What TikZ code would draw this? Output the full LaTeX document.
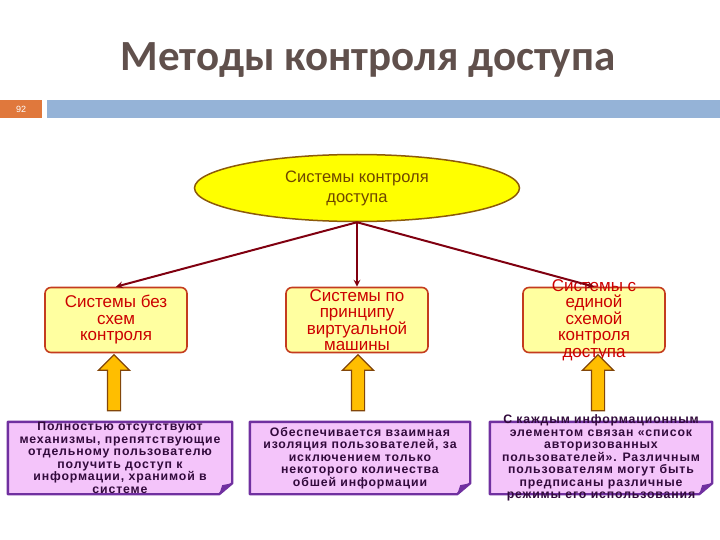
\documentclass[tikz,border=0pt]{standalone}
\usepackage{fontspec}
\setmainfont{Liberation Sans}
\newfontfamily\titlefont{Carlito}
\newfontfamily\notefont[LetterSpace=7]{Liberation Sans}
\usepackage{tikz}
\usepackage{xcolor}
\usetikzlibrary{shapes,arrows,positioning}
\definecolor{titleGray}{RGB}{96,80,76}
\definecolor{pageOrange}{RGB}{224,120,60}
\definecolor{barBlue}{RGB}{149,179,215}
\definecolor{ellYellow}{RGB}{255,255,0}
\definecolor{ellBorder}{RGB}{140,90,10}
\definecolor{ellText}{RGB}{110,70,0}
\definecolor{connRed}{RGB}{128,0,16}
\definecolor{boxFill}{RGB}{255,255,160}
\definecolor{boxBorder}{RGB}{196,60,30}
\definecolor{boxText}{RGB}{204,0,0}
\definecolor{upFill}{RGB}{255,190,0}
\definecolor{upBorder}{RGB}{130,70,10}
\definecolor{noteFill}{RGB}{244,196,250}
\definecolor{noteBorder}{RGB}{112,48,160}
\definecolor{noteText}{RGB}{50,10,60}

\begin{document}
\begin{tikzpicture}[x=1pt, y=-1pt,
    topbox/.style={rectangle, rounded corners=6pt, draw=boxBorder, line width=1.6pt, fill=boxFill, minimum width=142pt, minimum height=65pt},
    toptext/.style={align=center, text=boxText, font=\fontsize{17}{16.5}\selectfont, inner sep=0pt},
    notebox/.style={rectangle, minimum height=72pt, inner sep=0pt},
    noteedge/.style={draw=noteBorder, line width=2.4pt, fill=noteFill, line join=round},
    notetext/.style={align=center, text=noteText, font=\notefont\bfseries\fontsize{12.3}{12.5}\selectfont, inner sep=0pt},
    upbox/.style={single arrow, rotate=90, draw=upBorder, fill=upFill, line width=1.2pt, inner sep=6pt, single arrow head extend=9pt, minimum height=56pt},
    conn/.style={->, >=stealth, draw=connRed, line width=2pt}]
  \useasboundingbox (0,0) rectangle (720,540);

  % header
  \node[font=\titlefont\bfseries\fontsize{43}{50}\selectfont, text=titleGray] (title) at (368,60) {Методы контроля доступа};
  \node[fill=pageOrange, minimum width=42pt, minimum height=18pt, inner sep=0pt, anchor=north west, text=white, font=\fontsize{9}{9}\selectfont] (page) at (0,100) {92};
  \node[fill=barBlue, minimum width=673pt, minimum height=18pt, inner sep=0pt, anchor=north west] (bar) at (47,100) {};

  % root
  \node[ellipse, draw=ellBorder, line width=1.5pt, fill=ellYellow, minimum width=325pt, minimum height=67pt, align=center, text=ellText, font=\fontsize{16.5}{20}\selectfont] (sys) at (357,188) {Системы контроля\\доступа};

  % three kinds
  \node[topbox] (sysFree) at (116,320) {};
  \node[topbox] (sysVm) at (357,320) {};
  \node[topbox] (sysList) at (594,320) {};
  \node[toptext] (sysFreeText) at (sysFree) {Системы без\\схем\\контроля};
  \node[toptext] (sysVmText) at (sysVm) {Системы по\\принципу\\виртуальной\\машины};
  \node[toptext] (sysListText) at (sysList) {Системы с\\единой\\схемой\\контроля\\доступа};

  \draw[conn] (sys.south) -- (sysFree.north);
  \draw[conn] (sys.south) -- (sysVm.north);
  \draw[conn] (sys.south) -- (sysList.north);

  % descriptions
  \node[notebox, minimum width=224pt] (noteFree) at (120,458) {};
  \node[notebox, minimum width=220pt] (noteVm) at (360,458) {};
  \node[notebox, minimum width=222pt] (noteList) at (601,458) {};
  \foreach \n in {noteFree,noteVm,noteList}{
    \draw[noteedge] (\n.north west) -- (\n.north east) -- ([yshift=11pt]\n.south east) -- ([xshift=-13pt]\n.south east) -- (\n.south west) -- cycle;
    \fill[noteBorder] ([yshift=11pt]\n.south east) -- ([xshift=-13pt]\n.south east) -- ([xshift=-10pt,yshift=9pt]\n.south east) -- cycle;
  }
  \node[notetext] (noteFreeText) at (noteFree) {Полностью отсутствуют\\механизмы, препятствующие\\отдельному пользователю\\получить доступ к\\информации, хранимой в\\системе};
  \node[notetext] (noteVmText) at (noteVm) {Обеспечивается взаимная\\изоляция пользователей, за\\исключением только\\некоторого количества\\обшей информации};
  \node[notetext] (noteListText) at (noteList) {С каждым информационным\\элементом связан «список\\авторизованных\\пользователей». Различным\\пользователям могут быть\\предписаны различные\\режимы его использования};

  % up arrows
  \node[upbox] (upFree) at (114,386) {};
  \node[upbox] (upVm) at (358,386) {};
  \node[upbox] (upList) at (598,386) {};
\end{tikzpicture}
\end{document}
